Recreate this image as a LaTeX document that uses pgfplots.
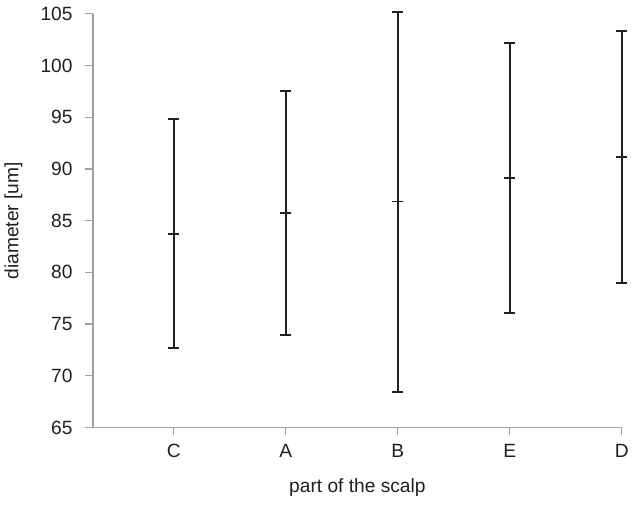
\documentclass[border={0pt 5pt 0pt 2pt}]{standalone}
\usepackage{pgfplots}
\pgfplotsset{compat=1.18}
\usepackage{fontspec}
\setmainfont{Liberation Sans}
\definecolor{axgray}{HTML}{A0A0A0}
\definecolor{barblk}{HTML}{231F20}
\definecolor{txt}{HTML}{231F20}

\begin{document}
\begin{tikzpicture}
\begin{axis}[
  width=400pt, height=313pt,
  scale only axis,
  xmin=0.28, xmax=5, ymin=65, ymax=105,
  ytick={65,70,...,105},
  xtick={1,2,3,4,5},
  xticklabels={C,A,B,E,D},
  axis x line*=bottom, axis y line*=left,
  axis line style={axgray, line width=0.9pt},
  tick style={axgray, line width=0.9pt},
  tick align=outside,
  major tick length=6pt,
  /pgf/number format/assume math mode=true,
  tick label style={font=\fontsize{14.5}{16}\selectfont, text=txt},
  yticklabel style={xshift=-6pt},
  xticklabel style={yshift=-3pt},
  label style={font=\fontsize{14.5}{16}\selectfont, text=txt},
  xlabel={part of the scalp},
  ylabel={diameter [um]},
  xlabel style={yshift=-9pt},
  ylabel style={yshift=7pt},
  clip=false,
]
\addplot[
  only marks, mark=-, mark size=4.2pt,
  mark options={line width=1.5pt, barblk},
  error bars/.cd, y dir=both, y explicit,
  error bar style={line width=1.5pt, barblk},
  error mark=-,
  error mark options={rotate=90, mark size=4.2pt, line width=1.5pt, barblk},
] coordinates {
  (1,83.75) += (0,11.05) -= (0,11.05)
  (2,85.7)  += (0,11.8)  -= (0,11.8)
  (3,86.85) += (0,18.35) -= (0,18.45)
  (4,89.1)  += (0,13.1)  -= (0,13.0)
  (5,91.2)  += (0,12.1)  -= (0,12.2)
};
\end{axis}
\end{tikzpicture}
\end{document}
